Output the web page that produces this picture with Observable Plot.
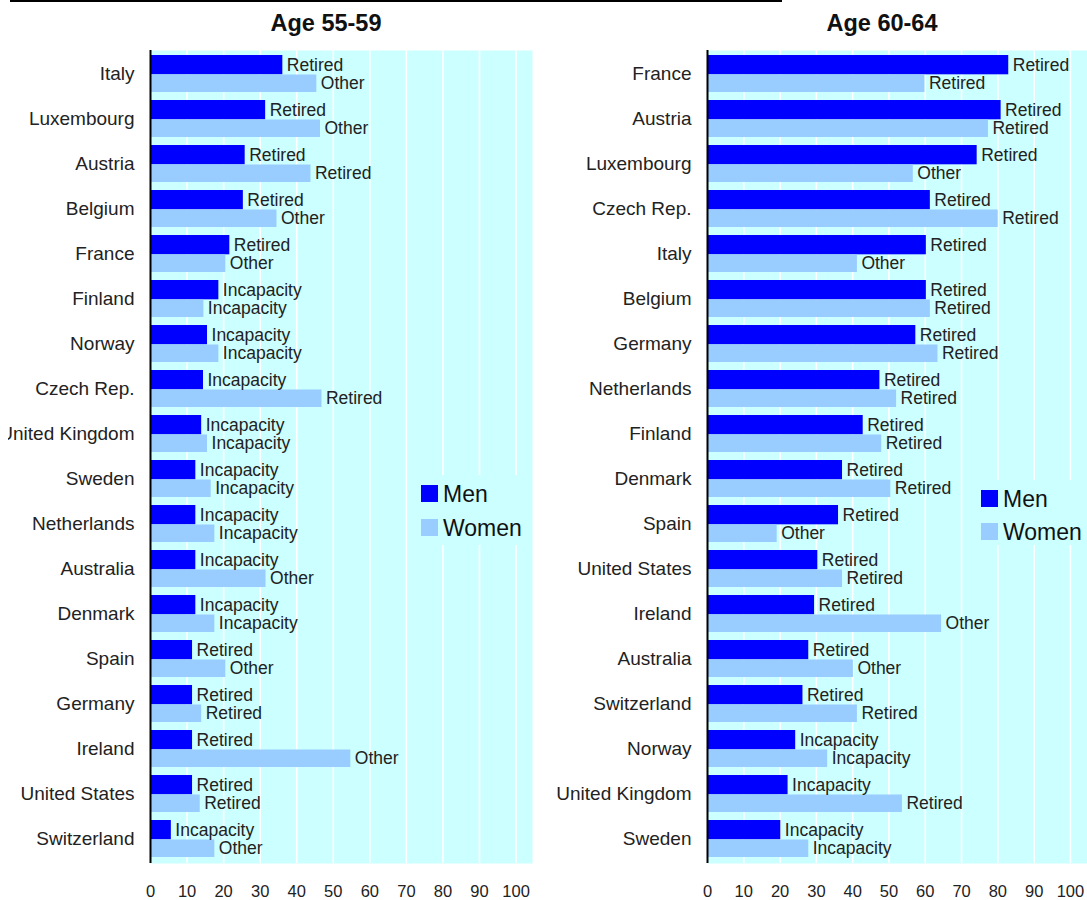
<!DOCTYPE html>
<html>
<head>
<meta charset="utf-8">
<script src="https://cdn.jsdelivr.net/npm/d3@7"></script>
<script src="https://cdn.jsdelivr.net/npm/@observablehq/plot@0.6"></script>
<style>
  body { margin: 0; background: #fff; font-family: "Liberation Sans", Arial, sans-serif; }
  #wrap { position: relative; width: 1087px; height: 900px; overflow: hidden; background: #fff; }
  .panel { position: absolute; top: 0; }
  .title { position: absolute; top: 10px; font-weight: bold; font-size: 23.5px; color: #111; transform: translateX(-50%); white-space: nowrap; }
  .legend { position: absolute; background: #ccffff; }
  .sw { position: absolute; width: 17px; height: 17px; }
  .lt { position: absolute; font-size: 23px; color: #111; white-space: nowrap; line-height: 1; }
  #topline { position: absolute; left: 10px; top: 0; width: 772px; height: 2px; background: #000; }
</style>
</head>
<body>
<div id="wrap">
  <div id="topline"></div>
  <div class="title" style="left:326px">Age 55-59</div>
  <div class="title" style="left:882px">Age 60-64</div>
  <div class="panel" id="left" style="left:8px"></div>
  <div class="panel" id="right" style="left:545px"></div>
  <div class="legend" style="left:410px;top:475px;width:115px;height:70px">
    <div class="sw" style="left:11px;top:10px;background:#0000ff"></div>
    <div class="lt" style="left:33px;top:8px">Men</div>
    <div class="sw" style="left:11px;top:44px;background:#99ccff"></div>
    <div class="lt" style="left:33px;top:42px">Women</div>
  </div>
  <div class="legend" style="left:970px;top:480px;width:117px;height:65px">
    <div class="sw" style="left:11px;top:10px;background:#0000ff"></div>
    <div class="lt" style="left:33px;top:8px">Men</div>
    <div class="sw" style="left:11px;top:43px;background:#99ccff"></div>
    <div class="lt" style="left:33px;top:41px">Women</div>
  </div>
</div>
<script>
// ---- Data: Age 55-59 ----
const countries5559 = ["Italy","Luxembourg","Austria","Belgium","France","Finland","Norway","Czech Rep.","United Kingdom","Sweden","Netherlands","Australia","Denmark","Spain","Germany","Ireland","United States","Switzerland"];
const men5559 = [36.2, 31.5, 25.9, 25.4, 21.7, 18.7, 15.6, 14.5, 14.0, 12.4, 12.4, 12.4, 12.4, 11.5, 11.5, 11.5, 11.5, 5.7];
const women5559 = [45.5, 46.5, 43.9, 34.6, 20.6, 14.6, 18.7, 46.9, 15.6, 16.6, 17.6, 31.6, 17.6, 20.6, 14.0, 54.8, 13.6, 17.6];
const menLabels5559 = ["Retired","Retired","Retired","Retired","Retired","Incapacity","Incapacity","Incapacity","Incapacity","Incapacity","Incapacity","Incapacity","Incapacity","Retired","Retired","Retired","Retired","Incapacity"];
const womenLabels5559 = ["Other","Other","Retired","Other","Other","Incapacity","Incapacity","Retired","Incapacity","Incapacity","Incapacity","Other","Incapacity","Other","Retired","Other","Retired","Other"];

// ---- Data: Age 60-64 ----
const countries6064 = ["France","Austria","Luxembourg","Czech Rep.","Italy","Belgium","Germany","Netherlands","Finland","Denmark","Spain","United States","Ireland","Australia","Switzerland","Norway","United Kingdom","Sweden"];
const men6064 = [83.0, 80.9, 74.3, 61.4, 60.3, 60.3, 57.4, 47.5, 42.9, 37.2, 36.1, 30.4, 29.5, 27.9, 26.3, 24.3, 22.2, 20.2];
const women6064 = [59.9, 77.4, 56.7, 80.1, 41.3, 61.4, 63.5, 52.1, 48.0, 50.5, 19.2, 37.2, 64.5, 40.2, 41.3, 33.1, 53.7, 27.9];
const menLabels6064 = ["Retired","Retired","Retired","Retired","Retired","Retired","Retired","Retired","Retired","Retired","Retired","Retired","Retired","Retired","Retired","Incapacity","Incapacity","Incapacity"];
const womenLabels6064 = ["Retired","Retired","Other","Retired","Other","Retired","Retired","Retired","Retired","Retired","Other","Retired","Other","Other","Retired","Incapacity","Retired","Incapacity"];

const xTicks = [0, 10, 20, 30, 40, 50, 60, 70, 80, 90, 100];

function panel(countries, men, women, menLab, womenLab, cfg) {
  const data = countries.map((c, i) => ({country: c, men: men[i], women: women[i], ml: menLab[i], wl: womenLab[i]}));
  return Plot.plot({
    width: cfg.width,
    height: 900,
    marginTop: 50,
    marginBottom: 37,
    marginLeft: cfg.marginLeft,
    marginRight: cfg.marginRight,
    x: {domain: [0, cfg.xmax]},
    y: {domain: countries, paddingInner: 0.177, paddingOuter: 0.0885},
    style: {fontFamily: "'Liberation Sans', Arial, sans-serif", background: "transparent", color: "#222", overflow: "hidden"},
    marks: [
      Plot.frame({fill: "#ccffff", stroke: null}),
      Plot.ruleX(xTicks.slice(1), {stroke: "white", strokeWidth: 1.6}),
      Plot.barX(data, {x: "men", y: "country", fill: "#0000ff", insetBottom: 17.7}),
      Plot.barX(data, {x: "women", y: "country", fill: "#99ccff", insetTop: 19.5}),
      Plot.text(data, {x: "men", y: "country", text: "ml", dx: 4, dy: -8.9, textAnchor: "start", fontSize: 17.5, fill: "#222"}),
      Plot.text(data, {x: "women", y: "country", text: "wl", dx: 4, dy: 9.7, textAnchor: "start", fontSize: 17.5, fill: "#222"}),
      Plot.ruleX([0], {stroke: "black", strokeWidth: 2}),
      Plot.axisY({tickSize: 0, tickPadding: 16, fontSize: 19, label: null}),
      Plot.axisX({ticks: xTicks, tickSize: 0, tickPadding: 22, fontSize: 16.5, label: null, tickFormat: d => String(d)})
    ]
  });
}

document.getElementById("left").append(
  panel(countries5559, men5559, women5559, menLabels5559, womenLabels5559, {width: 532, marginLeft: 142, marginRight: 8, xmax: 104.5})
);
document.getElementById("right").append(
  panel(countries6064, men6064, women6064, menLabels6064, womenLabels6064, {width: 542, marginLeft: 162, marginRight: 0, xmax: 104.7})
);
</script>
</body>
</html>
